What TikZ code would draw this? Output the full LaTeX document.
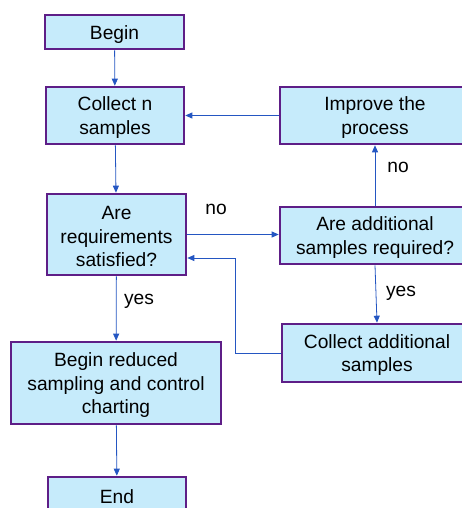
\documentclass[tikz,border=0pt]{standalone}
\usepackage{fontspec}
\setmainfont{Liberation Sans}
\usetikzlibrary{arrows.meta}
\definecolor{boxfill}{HTML}{C6EBFB}
\definecolor{boxdraw}{HTML}{5E1E87}
\definecolor{arr}{HTML}{2456C2}
\newcommand\tstrut{\rule{0pt}{18pt}}
\tikzset{
  box/.style={draw=boxdraw, fill=boxfill, line width=2.6pt, inner sep=0pt, align=center,
    font=\fontsize{19.2}{23.5}\selectfont},
  conn/.style={draw=arr, line width=0.8pt, -{Triangle[length=7pt,width=6pt]}},
  lbl/.style={font=\fontsize{19.2}{23.5}\selectfont, inner sep=0pt}
}
\begin{document}
\begin{tikzpicture}[x=1pt,y=-1pt]
\useasboundingbox (0,0) rectangle (462,508);
\clip (0,0) rectangle (462,508);
\node[box, minimum width=139, minimum height=34] (begin) at (114.5,32) {\tstrut Begin};
\node[box, minimum width=138, minimum height=57] (coll) at (115,115.5) {\tstrut Collect n\\samples};
\node[box, minimum width=139, minimum height=81] (req) at (116.5,234.5) {\tstrut Are\\requirements\\satisfied?};
\node[box, minimum width=190, minimum height=57] (impr) at (375,115.5) {\tstrut Improve the\\process};
\node[box, minimum width=190, minimum height=57] (add) at (375,235.5) {\tstrut Are additional\\samples required?};
\node[box, minimum width=190, minimum height=58] (coll2) at (377,353) {\tstrut Collect additional\\samples};
\node[box, minimum width=210, minimum height=82] (red) at (116,383) {\tstrut Begin reduced\\sampling and control\\charting};
\node[box, minimum width=138, minimum height=36] (end) at (117,495) {\tstrut End};
\coordinate (fb) at (235,258);
\draw[conn] (begin) -- (coll);
\draw[conn] (coll) -- (req);
\draw[conn] (req.east) -- (req.east -| add.west);
\draw[conn] (impr.west) -- (impr.west -| coll.east);
\draw[conn] (add.north) -- (impr.south);
\draw[conn] (add.south) -- (coll2.north);
\draw[conn] (coll2.west) -| (fb) -- (fb -| req.east);
\draw[conn] (req) -- (red);
\draw[conn] (red) -- (end);
\node[lbl] (no1) at (216,209) {no};
\node[lbl] (no2) at (398,167) {no};
\node[lbl] (yes1) at (401,293) {yes};
\node[lbl] (yes2) at (139,301) {yes};
\end{tikzpicture}
\end{document}
